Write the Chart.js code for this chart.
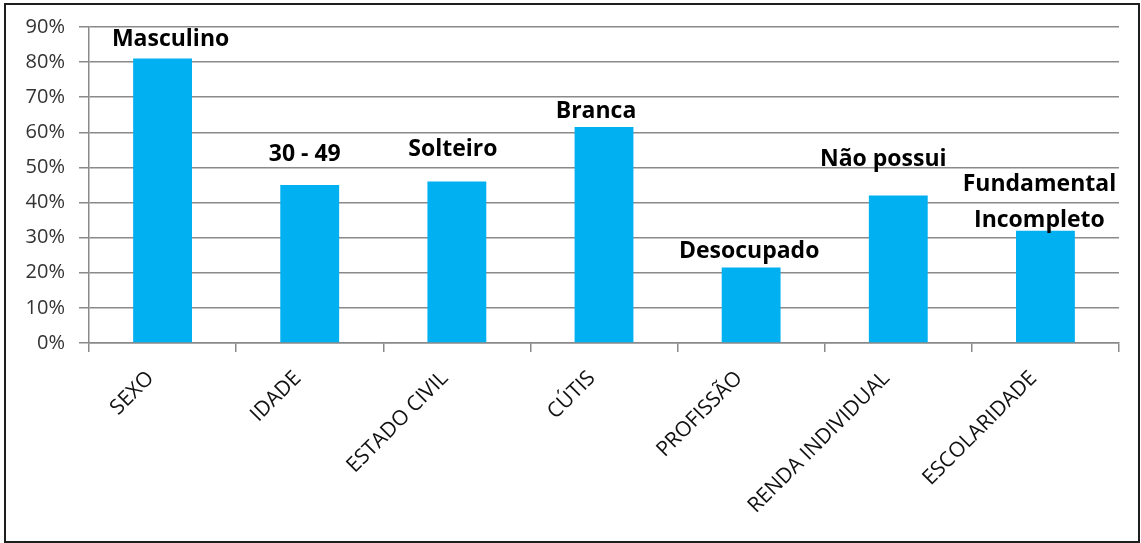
<!DOCTYPE html>
<html>
<head>
<meta charset="utf-8">
<script src="https://cdn.jsdelivr.net/npm/chart.js@4"></script>
<style>
  body { margin: 0; background: #fff; }
  #wrap { position: relative; width: 1141px; height: 543px; }
  #frame { position: absolute; left: 4px; top: 3px; width: 1132px; height: 536px; border: 2px solid #1e1e1e; }
  #perfil { position: absolute; left: 0; top: 0; }
</style>
</head>
<body>
<div id="wrap">
  <div id="frame"></div>
  <canvas id="perfil" width="1141" height="543"></canvas>
</div>
<script>
// categorias e valores (%)
var categorias = ['SEXO', 'IDADE', 'ESTADO CIVIL', 'CÚTIS', 'PROFISSÃO', 'RENDA INDIVIDUAL', 'ESCOLARIDADE'];
var valores = [81, 45, 46, 61.5, 21.5, 42, 32];
var rotulos = ['Masculino', '30 - 49', 'Solteiro', 'Branca', 'Desocupado', 'Não possui', ['Fundamental', 'Incompleto']];
var yMax = 90;
var yPasso = 10;

// rotulos acima das barras (posicao ajustada a olho)
var rotuloPlugin = {
  id: 'rotulos',
  afterDatasetsDraw: function(chart, args, opts) {
    var ctx = chart.ctx;
    var meta = chart.getDatasetMeta(0);
    ctx.save();
    ctx.font = 'bold 23px "Open Sans"';
    ctx.fillStyle = '#000';
    ctx.textAlign = 'center';
    ctx.textBaseline = 'alphabetic';
    meta.data.forEach(function(bar, i) {
      var linhas = [].concat(rotulos[i]);
      var x = bar.x + opts.dx[i];
      var y = bar.y - opts.dy[i];
      for (var k = linhas.length - 1; k >= 0; k--) {
        ctx.fillText(linhas[k], x, y);
        y -= 36;
      }
    });
    ctx.restore();
  }
};

var ctx = document.getElementById('perfil').getContext('2d');
var chart = new Chart(ctx, {
  type: 'bar',
  data: {
    labels: categorias,
    datasets: [{
      data: valores,
      backgroundColor: '#00B0F0',
      borderWidth: 0,
      categoryPercentage: 1,
      barPercentage: 0.4
    }]
  },
  plugins: [rotuloPlugin],
  options: {
    responsive: false,
    animation: false,
    layout: { padding: { left: 0, top: 27, right: 22, bottom: 0 } },
    plugins: {
      legend: { display: false },
      tooltip: { enabled: false },
      rotulos: {
        dx: [8, -5, -4, -8, -2, -15, -6],
        dy: [13, 24, 25, 9, 10, 30, 4]
      }
    },
    scales: {
      x: {
        afterFit: function(s) { s.height = 200; },
        grid: { drawOnChartArea: false, drawTicks: true, tickLength: 9, offset: true, color: '#8a8a8a', lineWidth: 1.5 },
        border: { color: '#8a8a8a', width: 1.5 },
        ticks: {
          minRotation: 45,
          maxRotation: 45,
          autoSkip: false,
          padding: 14,
          labelOffset: -12,
          color: '#111',
          font: { family: '"Open Sans"', size: 21 }
        }
      },
      y: {
        min: 0,
        max: yMax,
        afterFit: function(s) { s.width = 89; },
        grid: { color: '#8a8a8a', lineWidth: 1.5, tickLength: 10 },
        border: { color: '#8a8a8a', width: 1.5 },
        ticks: {
          stepSize: yPasso,
          padding: 14,
          color: '#333',
          font: { family: '"Open Sans"', size: 20 },
          callback: function(v) { return v + '%'; }
        }
      }
    }
  }
});
</script>
</body>
</html>
